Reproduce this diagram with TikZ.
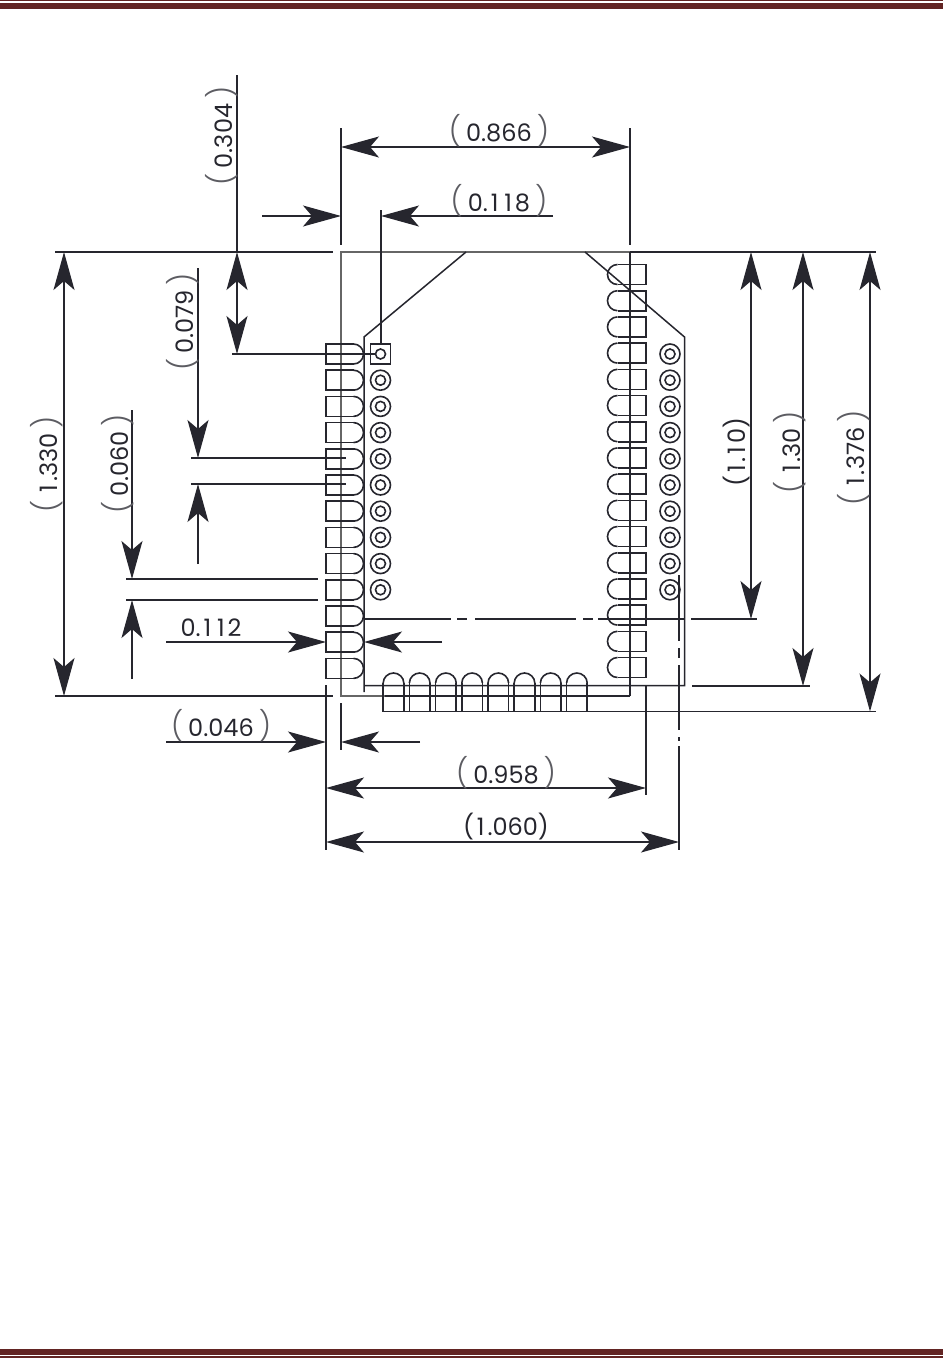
\documentclass[tikz,border=0pt]{standalone}
\usepackage{fontspec}
\setmainfont{Poppins}
\usetikzlibrary{arrows.meta}
\definecolor{ink}{HTML}{26262E}
\definecolor{bar}{HTML}{622423}
\newfontfamily\parfont{Poppins Light}
\newcommand{\oo}{\makebox[13.5pt][c]{1}}
\newcommand{\pv}[1]{{\parfont\fontsize{29}{29}\selectfont\color{ink!75}(}\hspace{5pt}#1\hspace{5pt}{\parfont\fontsize{29}{29}\selectfont\color{ink!75})}}
\tikzset{
  lbl/.style={font=\fontsize{24}{24}\selectfont,text=ink,inner sep=0pt},
  thin line/.style={draw=ink,line width=1.25pt},
  outline/.style={draw=ink,line width=1.5pt},
  frame/.style={draw=gray!80!black,line width=1.6pt},
  padshape/.style={draw=ink,line width=1.6pt},
  hd/.tip={Stealth[length=38pt,width=21pt,inset=9pt]},
  both/.style={thin line,{hd}-{hd}},
  single/.style={thin line,-{hd}},
}
\begin{document}
\begin{tikzpicture}[x=1pt,y=-1pt]
\useasboundingbox (0,0) rectangle (943,1358);
% page rules
\fill[bar] (0,0) rectangle (943,1.4);
\fill[bar] (0,3.3) rectangle (943,9);
\fill[bar] (0,1349) rectangle (943,1354.5);
\fill[bar] (0,1356) rectangle (943,1358);
% grey frame
\draw[frame] (630,252) -- (341,252) -- (341,696) -- (630,696);
\draw[outline] (630,696) -- (385,696);
\draw[outline] (630,252) -- (630,696);
% board outline
\draw[outline] (466,252) -- (364,337) -- (364,692);
\draw[outline] (364,685.5) -- (684.5,685.5) -- (684.5,337) -- (585,252);
% left pads
\foreach \i in {0,...,12}{
  \pgfmathsetmacro\c{354+26.2*\i}
  \draw[padshape] (353.5,\c-10) -- (326,\c-10) -- (326,\c+10) -- (353.5,\c+10);
  \draw[padshape] (353.5,\c-10) .. controls (359,\c-10) and (363.5,\c-5.5) .. (363.5,\c) .. controls (363.5,\c+5.5) and (359,\c+10) .. (353.5,\c+10);
}
% right pads
\foreach \i in {0,...,15}{
  \pgfmathsetmacro\c{274.5+26.2*\i}
  \draw[padshape] (617.5,\c-10) -- (646,\c-10) -- (646,\c+10) -- (617.5,\c+10);
  \draw[padshape] (617.5,\c-10) .. controls (612,\c-10) and (607.5,\c-5.5) .. (607.5,\c) .. controls (607.5,\c+5.5) and (612,\c+10) .. (617.5,\c+10);
}
% bottom pads
\foreach \i in {0,...,7}{
  \pgfmathsetmacro\c{393.5+26.2*\i}
  \draw[padshape] (\c-10.3,683) -- (\c-10.3,711.5) -- (\c+10.3,711.5) -- (\c+10.3,683);
  \draw[padshape] (\c-10.3,683) .. controls (\c-10.3,677.5) and (\c-5.5,673) .. (\c,673) .. controls (\c+5.5,673) and (\c+10.3,677.5) .. (\c+10.3,683);
}
% holes
\foreach \i in {0,...,9}{
  \pgfmathsetmacro\c{354+26.2*\i}
  \draw[padshape] (670,\c) circle[radius=10];
  \draw[padshape] (670,\c) circle[radius=5];
  \ifnum\i=0\else
    \draw[padshape] (380.5,\c) circle[radius=10];
  \fi
  \draw[padshape] (380.5,\c) circle[radius=5];
}
\draw[padshape] (370.5,344) rectangle (390.5,364);
% extension lines
\draw[thin line] (55,252) -- (333,252);
\draw[thin line] (630,252) -- (876,252);
\draw[thin line] (55,696) -- (333,696);
\draw[thin line] (341,128) -- (341,245);
\draw[thin line] (630,128) -- (630,245);
\draw[thin line] (381,210) -- (381,344);
\draw[thin line] (232,354) -- (375,354);
\draw[thin line] (191,458) -- (346,458);
\draw[thin line] (191,484) -- (346,484);
\draw[thin line] (126,579) -- (318,579);
\draw[thin line] (126,600) -- (318,600);
\draw[thin line] (326,685) -- (326,850);
\draw[thin line] (341,703) -- (341,750);
\draw[thin line] (646,686) -- (646,795);
\draw[thin line] (692,686) -- (810,686);
\draw[thin line] (384,711.5) -- (876,711.5);
% dash-dot lines
\draw[thin line] (365,619) -- (451,619) (457,619) -- (467,619) (475,619) -- (576,619) (583,619) -- (593,619) (598,619) -- (684,619) (691,619) -- (757,619);
\draw[thin line] (679,575) -- (679,641) (679,648) -- (679,658) (679,665) -- (679,730) (679,737) -- (679,741) (679,746) -- (679,850);
% dimensions
\draw[both] (341,147) -- (630,147);
\draw[single] (262,216) -- (341,216);
\draw[single] (553,216) -- (381,216);
\draw[thin line] (237,75) -- (237,252);
\draw[both] (237,252) -- (237,354);
\draw[single] (198,268) -- (198,458);
\draw[single] (198,564) -- (198,484);
\draw[single] (132,410) -- (132,579);
\draw[single] (132,679) -- (132,600);
\draw[both] (64,252) -- (64,696);
\draw[single] (166,642) -- (326,642);
\draw[single] (442,642) -- (364,642);
\draw[single] (166,742) -- (326,742);
\draw[single] (420,742) -- (341,742);
\draw[both] (326,788) -- (646,788);
\draw[both] (326,842) -- (679,842);
\draw[both] (751,252) -- (751,619);
\draw[both] (803,252) -- (803,686);
\draw[both] (870,252) -- (870,711.5);
% labels
\node[lbl] (t866) at (499,131) {\pv{0.866}};
\node[lbl] (t118) at (499,201) {\pv{0.\oo\oo8}};
\node[lbl,rotate=90] (t304) at (222,136) {\pv{0.304}};
\node[lbl,rotate=90] (t079) at (183,322) {\pv{0.079}};
\node[lbl,rotate=90] (t060) at (118,464) {\pv{0.060}};
\node[lbl,rotate=90] (t1330) at (47,464) {\pv{\oo.330}};
\node[lbl] (t112) at (211,628) {0.\oo\oo2};
\node[lbl] (t046) at (221,726) {\pv{0.046}};
\node[lbl] (t958) at (506,773) {\pv{0.958}};
\node[lbl] (t1060) at (506,827) {(\oo.060)};
\node[lbl,rotate=90] (t110) at (737,452) {(\oo.\oo0)};
\node[lbl,rotate=90] (t130) at (790,452) {\pv{\oo.30}};
\node[lbl,rotate=90] (t1376) at (854,458) {\pv{\oo.376}};
\end{tikzpicture}
\end{document}
